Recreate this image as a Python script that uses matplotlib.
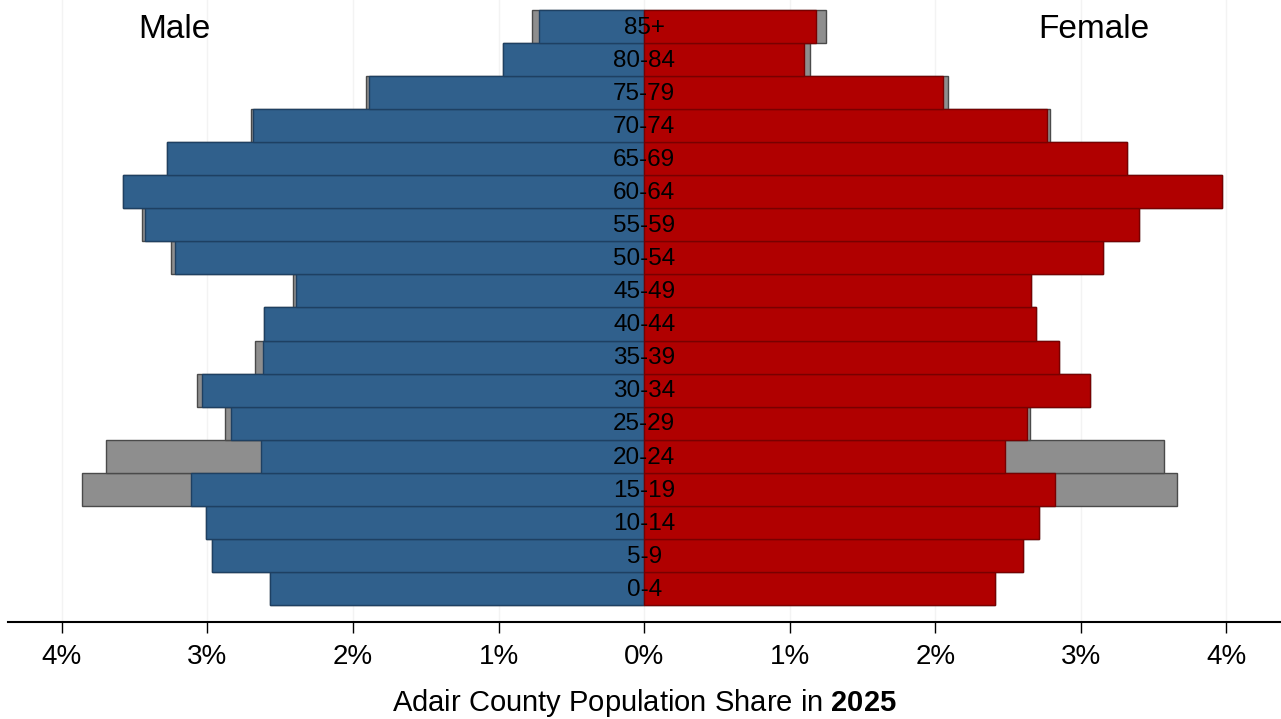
"""
Adair County population pyramid (2025)
"""
import matplotlib
matplotlib.use("Agg")
import matplotlib.pyplot as plt
import numpy as np

matplotlib.rcParams["font.family"] = ["Liberation Sans", "DejaVu Sans"]
matplotlib.rcParams["mathtext.fontset"] = "custom"
matplotlib.rcParams["mathtext.rm"] = "Liberation Sans"
matplotlib.rcParams["mathtext.bf"] = "Liberation Sans:bold"

# age groups, bottom to top
age_groups = ["0-4", "5-9", "10-14", "15-19", "20-24", "25-29", "30-34", "35-39",
              "40-44", "45-49", "50-54", "55-59", "60-64", "65-69", "70-74",
              "75-79", "80-84", "85+"]

# share of population (%) excluding group quarters
male_share = [2.57, 2.97, 3.01, 3.11, 2.63, 2.84, 3.04, 2.62, 2.61, 2.39,
              3.22, 3.43, 3.58, 3.28, 2.69, 1.89, 0.97, 0.72]
female_share = [2.41, 2.60, 2.71, 2.82, 2.48, 2.63, 3.06, 2.85, 2.69, 2.66,
                3.15, 3.40, 3.97, 3.32, 2.77, 2.05, 1.10, 1.18]

# total share (%) including group quarters
male_total = [2.57, 2.97, 3.01, 3.86, 3.70, 2.88, 3.07, 2.67, 2.61, 2.41,
              3.25, 3.45, 3.58, 3.28, 2.70, 1.91, 0.97, 0.77]
female_total = [2.41, 2.60, 2.71, 3.66, 3.57, 2.65, 3.06, 2.85, 2.69, 2.66,
                3.15, 3.40, 3.97, 3.32, 2.79, 2.09, 1.14, 1.25]

x_ticks = [-4, -3, -2, -1, 0, 1, 2, 3, 4]
x_tick_labels = ["4%", "3%", "2%", "1%", "0%", "1%", "2%", "3%", "4%"]

BLUE = "#30608c"
RED = "#b00000"
GRAY = "#8e8e8e"

y = np.arange(len(age_groups))

fig = plt.figure(figsize=(12.81, 7.19), dpi=100)
ax = fig.add_axes([8 / 1281, 97 / 719, 1273 / 1281, 622 / 719])

# gray = total incl. group quarters (behind)
ax.barh(y, -np.array(male_total), height=1.0, color=GRAY, edgecolor="#4a4a4a",
        linewidth=1.0, zorder=2)
ax.barh(y, female_total, height=1.0, color=GRAY, edgecolor="#4a4a4a",
        linewidth=1.0, zorder=2)

ax.barh(y, -np.array(male_share), height=1.0, color=BLUE, edgecolor="#1e4062",
        linewidth=1.0, zorder=3)
ax.barh(y, female_share, height=1.0, color=RED, edgecolor="#780000",
        linewidth=1.0, zorder=3)

for yi, label in zip(y, age_groups):
    ax.text(0, yi - 0.04, label, ha="center", va="center", fontsize=17.5, zorder=4)

ax.text(-3.23, 16.92, "Male", ha="center", va="center", fontsize=24)
ax.text(3.09, 16.92, "Female", ha="center", va="center", fontsize=24)

ax.set_xlim(-4.37, 4.375)
ax.set_ylim(-1.015, 17.8)
ax.set_xticks(x_ticks)
ax.set_xticklabels(x_tick_labels, fontsize=20)
ax.set_yticks([])
ax.tick_params(axis="x", direction="out", length=8, width=1.0, pad=8)
ax.grid(True, axis="x", color="#f3f3f3", linewidth=1.0, zorder=0)

for side in ["top", "left", "right"]:
    ax.spines[side].set_visible(False)
ax.spines["bottom"].set_linewidth(1.5)

ax.set_xlabel(r"Adair County Population Share in $\mathbf{2025}$", fontsize=21,
              labelpad=12)

fig.savefig("out.png", dpi=100)
plt.close(fig)
